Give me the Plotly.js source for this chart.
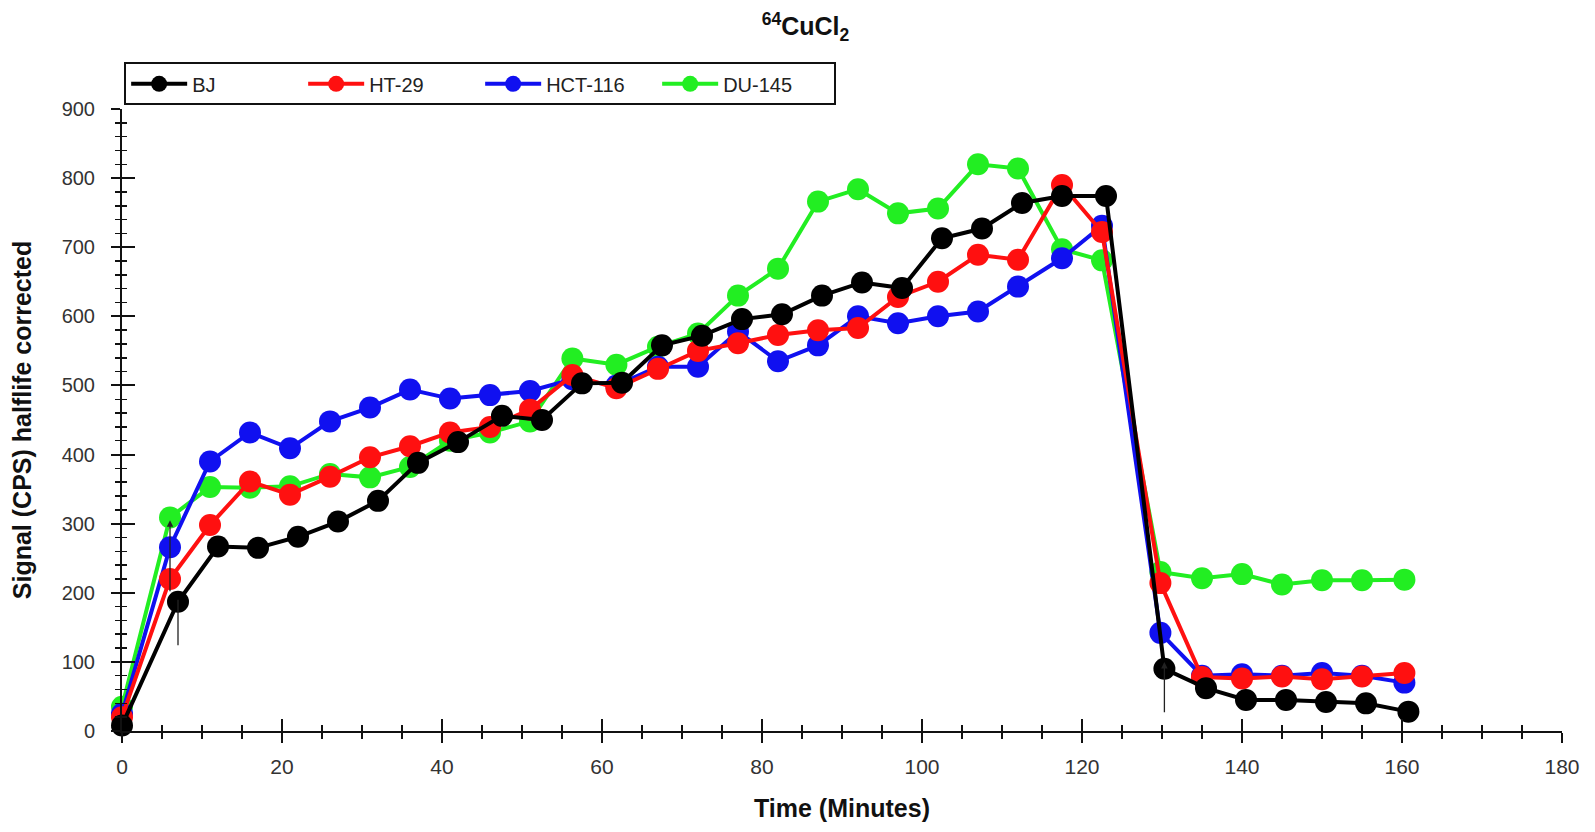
<!DOCTYPE html>
<html>
<head>
<meta charset="utf-8">
<script src="https://cdn.plot.ly/plotly-3.0.1.min.js"></script>
<style>
  html, body { margin: 0; padding: 0; background: #ffffff; }
  #chart { width: 1595px; height: 832px; }
</style>
</head>
<body>
<div id="chart"></div>
<script>
// ---- Data ----
var seriesNames = ["BJ", "HT-29", "HCT-116", "DU-145"];
var seriesColors = ["#000000", "#ff1010", "#1010f0", "#22ee22"];

var timeBJ = [0, 7, 12, 17, 22, 27, 32, 37, 42, 47.5, 52.5, 57.5, 62.5, 67.5, 72.5, 77.5, 82.5, 87.5, 92.5, 97.5, 102.5, 107.5, 112.5, 117.5, 123, 130.3, 135.5, 140.5, 145.5, 150.5, 155.5, 160.8];
var timeOther = [0, 6, 11, 16, 21, 26, 31, 36, 41, 46, 51, 56.3, 61.8, 67, 72, 77, 82, 87, 92, 97, 102, 107, 112, 117.5, 122.5, 129.8, 135, 140, 145, 150, 155, 160.3];

var valBJ = [8, 187, 267, 265, 281, 303, 333, 388, 418, 456, 450, 503, 504, 558, 572, 596, 603, 630, 649, 641, 713, 727, 764, 774, 774, 90, 62, 45, 45, 42, 40, 28];
var valHT29 = [20, 220, 298, 361, 342, 368, 396, 412, 432, 440, 465, 515, 496, 524, 550, 561, 573, 580, 583, 628, 650, 689, 682, 790, 722, 214, 78, 76, 79, 75, 79, 84];
var valHCT116 = [25, 266, 390, 432, 409, 448, 468, 494, 481, 486, 492, 509, 500, 527, 527, 578, 535, 558, 600, 590, 600, 607, 643, 684, 731, 142, 80, 82, 80, 84, 80, 70];
var valDU145 = [35, 309, 353, 352, 354, 372, 367, 382, 420, 432, 448, 539, 530, 556, 575, 630, 669, 766, 784, 749, 756, 820, 814, 697, 681, 230, 221, 227, 212, 218, 218, 219];

var xTickVals = [0, 20, 40, 60, 80, 100, 120, 140, 160, 180];
var yTickVals = [0, 100, 200, 300, 400, 500, 600, 700, 800, 900];

// ---- Traces (drawn green, blue, red, black so black is on top) ----
var allTimes = [timeBJ, timeOther, timeOther, timeOther];
var allVals = [valBJ, valHT29, valHCT116, valDU145];
var order = [3, 2, 1, 0];
var traces = order.map(function (i) {
  return {
    type: "scatter",
    mode: "lines+markers",
    name: seriesNames[i],
    x: allTimes[i],
    y: allVals[i],
    line: { color: seriesColors[i], width: 4 },
    marker: { color: seriesColors[i], size: 22, symbol: "circle" },
    cliponaxis: false,
    hoverinfo: "x+y+name"
  };
});
// helper trace so the overlaid tick-only axes exist
traces.push({
  type: "scatter", mode: "markers", x: [null], y: [null],
  xaxis: "x2", yaxis: "y2", showlegend: false, hoverinfo: "skip"
});

var tickFontY = { family: "Liberation Sans, Arial, sans-serif", size: 20, color: "#333333" };
var tickFontX = { family: "Liberation Sans, Arial, sans-serif", size: 21, color: "#333333" };
var titleFont = { family: "Liberation Sans, Arial, sans-serif", size: 25, color: "#111111", weight: "bold" };

var layout = {
  width: 1595,
  height: 832,
  margin: { l: 122, r: 33, t: 109, b: 101 },
  paper_bgcolor: "#ffffff",
  plot_bgcolor: "#ffffff",
  showlegend: true,
  title: {
    text: "<b><sup>64</sup>CuCl<sub>2</sub></b>",
    font: { family: "Liberation Sans, Arial, sans-serif", size: 25, color: "#111111" },
    xref: "container", x: 0.505, xanchor: "center",
    yref: "container", y: 0.968, yanchor: "middle"
  },
  legend: {
    orientation: "h",
    x: 0.0015, xanchor: "left",
    y: 1.075, yanchor: "top",
    traceorder: "reversed",
    bgcolor: "#ffffff",
    bordercolor: "#111111",
    borderwidth: 2,
    font: { family: "Liberation Sans, Arial, sans-serif", size: 20, color: "#222222" },
    entrywidth: 106,
    entrywidthmode: "pixels",
    itemwidth: 56
  },
  xaxis: {
    range: [0, 180],
    tickmode: "array",
    tickvals: xTickVals,
    ticktext: xTickVals.map(String),
    ticks: "outside",
    ticklen: 10,
    tickwidth: 2,
    tickcolor: "#111111",
    ticklabelstandoff: 6,
    minor: { dtick: 5, ticks: "outside", ticklen: 6, tickwidth: 1.5, tickcolor: "#111111" },
    showline: true,
    linecolor: "#111111",
    linewidth: 2,
    showgrid: false,
    zeroline: false,
    tickfont: tickFontX,
    title: { text: "Time (Minutes)", font: titleFont, standoff: 22 },
    fixedrange: true
  },
  yaxis: {
    range: [0, 900],
    tickmode: "array",
    tickvals: yTickVals,
    ticktext: yTickVals.map(String),
    ticks: "outside",
    ticklen: 9,
    tickwidth: 2,
    tickcolor: "#111111",
    ticklabelstandoff: 12,
    minor: { dtick: 20, ticks: "outside", ticklen: 5, tickwidth: 1.5, tickcolor: "#111111" },
    showline: true,
    linecolor: "#111111",
    linewidth: 2,
    showgrid: false,
    zeroline: false,
    tickfont: tickFontY,
    title: { text: "Signal (CPS) halflife corrected", font: titleFont, standoff: 23 },
    fixedrange: true
  },
  xaxis2: {
    overlaying: "x",
    anchor: "y",
    side: "bottom",
    range: [0, 180],
    tickmode: "array",
    tickvals: xTickVals,
    ticks: "inside",
    ticklen: 12,
    tickwidth: 2,
    tickcolor: "#111111",
    minor: { dtick: 5, ticks: "inside", ticklen: 6, tickwidth: 1.5, tickcolor: "#111111" },
    showticklabels: false,
    showline: false,
    showgrid: false,
    zeroline: false,
    fixedrange: true
  },
  yaxis2: {
    overlaying: "y",
    anchor: "x",
    side: "left",
    range: [0, 900],
    tickmode: "array",
    tickvals: yTickVals,
    ticks: "inside",
    ticklen: 13,
    tickwidth: 2,
    tickcolor: "#111111",
    minor: { dtick: 20, ticks: "inside", ticklen: 5, tickwidth: 1.5, tickcolor: "#111111" },
    showticklabels: false,
    showline: false,
    showgrid: false,
    zeroline: false,
    fixedrange: true
  },
  annotations: [
    { x: 6, y: 305, ax: 6, ay: 200, xref: "x", yref: "y", axref: "x", ayref: "y",
      text: "", showarrow: true, arrowhead: 2, arrowsize: 1, arrowwidth: 1.3, arrowcolor: "#222222" },
    { x: 7, y: 190, ax: 7, ay: 122, xref: "x", yref: "y", axref: "x", ayref: "y",
      text: "", showarrow: true, arrowhead: 0, arrowwidth: 1.3, arrowcolor: "#222222" },
    { x: 130.3, y: 100, ax: 130.3, ay: 25, xref: "x", yref: "y", axref: "x", ayref: "y",
      text: "", showarrow: true, arrowhead: 2, arrowsize: 1, arrowwidth: 1.3, arrowcolor: "#222222" }
  ]
};

Plotly.newPlot("chart", traces, layout, { displayModeBar: false, staticPlot: true });
</script>
</body>
</html>
